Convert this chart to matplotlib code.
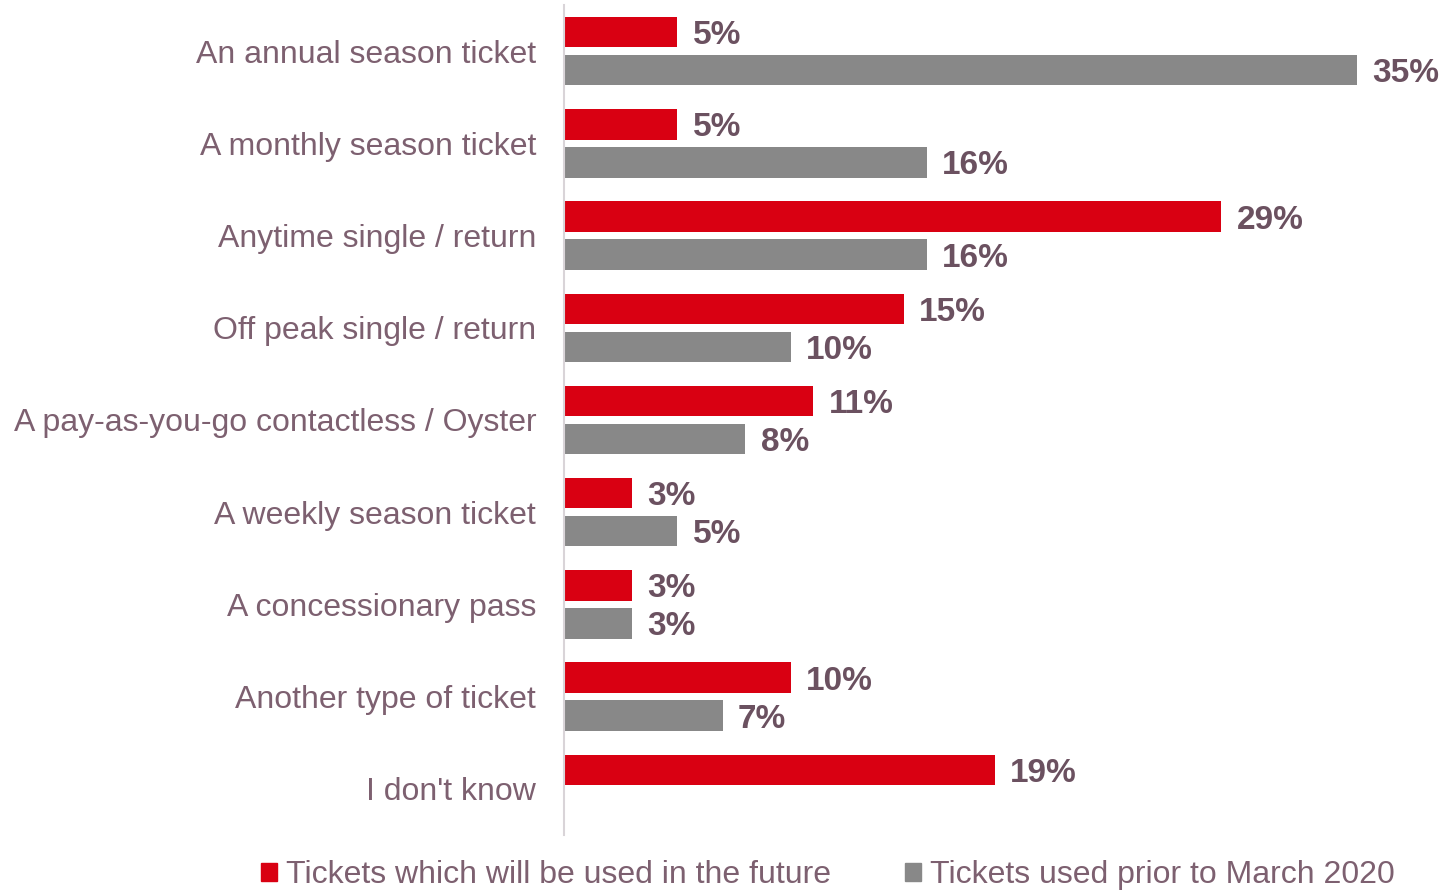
import numpy as np
import matplotlib.pyplot as plt
from matplotlib.patches import Patch

plt.rcParams['font.family'] = ['Liberation Sans', 'DejaVu Sans']

categories = [
    "An annual season ticket",
    "A monthly season ticket",
    "Anytime single / return",
    "Off peak single / return",
    "A pay-as-you-go contactless / Oyster",
    "A weekly season ticket",
    "A concessionary pass",
    "Another type of ticket",
    "I don't know",
]
future = [5, 5, 29, 15, 11, 3, 3, 10, 19]
prior = [35, 16, 16, 10, 8, 5, 3, 7, None]

RED = "#D90012"
GREY = "#888888"
LABEL_COL = "#7D6070"
VALUE_COL = "#6B5160"

fig = plt.figure(figsize=(14.41, 8.90), dpi=100)
ax = fig.add_axes([564 / 1441, 55 / 890, 877 / 1441, 830 / 890])

y = np.arange(len(categories))
off = 0.206
h = 0.33

def add_bars(vals, pos, color):
    for yy, v in zip(pos, vals):
        if v is None:
            continue
        ax.barh(yy, v, height=h, color=color, edgecolor="none")
        ax.annotate(f"{v}%", xy=(v, yy), xytext=(11, -2.5), textcoords="offset points",
                    ha="left", va="center", fontsize=24, fontweight="bold", color=VALUE_COL)

add_bars(future, y - off, RED)
add_bars(prior, y + off, GREY)

ax.set_xlim(0, 877 / 22.66)
ax.set_ylim(len(categories) - 0.5, -0.5)
ax.set_yticks(y)
ax.set_yticklabels(categories, fontsize=23, color=LABEL_COL)
ax.tick_params(axis="y", length=0, pad=20)
ax.set_xticks([])
for s in ["top", "right", "bottom"]:
    ax.spines[s].set_visible(False)
ax.spines["left"].set_color("#D9D4D8")
ax.spines["left"].set_linewidth(1.5)

handles = [Patch(color=RED, label="Tickets which will be used in the future"),
           Patch(color=GREY, label="Tickets used prior to March 2020")]
fig.legend(handles=handles, loc="center", bbox_to_anchor=(828 / 1441, 1 - 875 / 890),
           ncol=2, frameon=False, fontsize=23, labelcolor=LABEL_COL,
           handlelength=0.5, handleheight=0.5, handletextpad=0.3, columnspacing=2.3)

fig.savefig("out.png", dpi=100, facecolor="w")
